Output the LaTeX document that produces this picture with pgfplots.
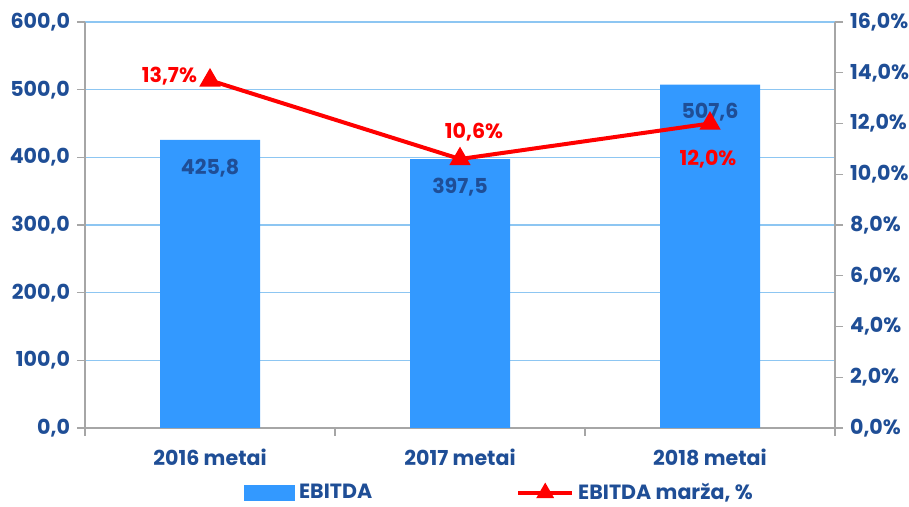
\documentclass[border=0pt]{standalone}
\usepackage{fontspec}
\setmainfont{Poppins}
\usepackage{pgfplots}
\pgfplotsset{compat=1.18}
\usetikzlibrary{calc}
\definecolor{barblue}{HTML}{3399FF}
\definecolor{txtblue}{HTML}{1F4E96}
\definecolor{gridblue}{HTML}{8DC6F2}
\definecolor{axgray}{HTML}{A6A6A6}
\definecolor{lred}{HTML}{FF0000}
\tikzset{lab/.style={font=\fontsize{10.3}{12}\selectfont\bfseries}}
\begin{document}
\begin{tikzpicture}
\begin{axis}[name=ax, width=375pt, height=203pt, scale only axis,
  xmin=-0.5, xmax=2.5, ymin=0, ymax=600,
  ytick={0,100,...,600},
  xtick={-0.5,0.5,1.5,2.5},
  xticklabels={2016 metai,2017 metai,2018 metai},
  x tick label as interval,
  axis x line*=bottom, axis y line*=left,
  axis line style={axgray, -, line width=0.8pt},
  tick style={axgray, line width=0.6pt},
  tick align=outside, major tick length=4pt,
  ymajorgrids, grid style={gridblue, line width=0.7pt},
  ticklabel style={txtblue, font=\fontsize{10.3}{12}\selectfont\bfseries},
  /pgf/number format/assume math mode=true,
  yticklabel style={/pgf/number format/.cd, fixed, fixed zerofill, precision=1, use comma, 1000 sep={}},
  xticklabel style={yshift=-3pt},
  ybar, bar width=50pt,
  nodes near coords,
  nodes near coords style={txtblue, anchor=center, yshift=-14pt, font=\fontsize{10.3}{12}\selectfont\bfseries,
    /pgf/number format/.cd, fixed, fixed zerofill, precision=1, use comma, assume math mode=true},
]
\addplot[fill=barblue, draw=none] coordinates {(0,425.8) (1,397.5) (2,507.6)};
\end{axis}
\begin{axis}[width=375pt, height=203pt, scale only axis,
  xmin=-0.5, xmax=2.5, ymin=0, ymax=16,
  ytick={0,2,...,16},
  axis x line=none, axis y line*=right,
  axis line style={axgray, -, line width=0.8pt},
  tick style={axgray, line width=0.6pt},
  tick align=outside, major tick length=4pt,
  ticklabel style={txtblue, font=\fontsize{10.3}{12}\selectfont\bfseries},
  yticklabel={\pgfmathprintnumber[fixed, fixed zerofill, precision=1, use comma, assume math mode=true]{\tick}\%},
  legend style={at={(0.554,-0.16)}, anchor=center, draw=none, fill=none,
    font=\fontsize{10.3}{12}\selectfont\bfseries, text=txtblue,
    /tikz/every even column/.append style={column sep=70pt}},
  legend columns=2,
]
\addlegendimage{legend image code/.code={\fill[barblue] (0pt,-3.75pt) rectangle (25pt,3.75pt);}}
\addlegendentry{EBITDA}
\addplot[lred, line width=2pt, mark=triangle*, mark size=4.2pt, mark options={solid},
  legend image code/.code={\draw[mark repeat=2, mark phase=2, mark size=3.2pt] plot coordinates {(0pt,0pt) (13.5pt,0pt) (27pt,0pt)};}]
  coordinates {(0,13.7) (1,10.6) (2,12.0)};
\addlegendentry{EBITDA marža, \%}
\node[lred, lab, anchor=east] at (axis cs:0,13.7) [xshift=-3pt, yshift=2pt] {13,7\%};
\node[lred, lab, anchor=center] at (axis cs:1,10.6) [xshift=7pt, yshift=13.5pt] {10,6\%};
\node[lred, lab, anchor=center] at (axis cs:2,12.0) [xshift=-1pt, yshift=-18pt] {12,0\%};
\end{axis}
\pgfresetboundingbox
\path[use as bounding box] ($(ax.south west)+(-42.5pt,-39.5pt)$) rectangle ($(ax.north east)+(37pt,11pt)$);
\end{tikzpicture}
\end{document}
